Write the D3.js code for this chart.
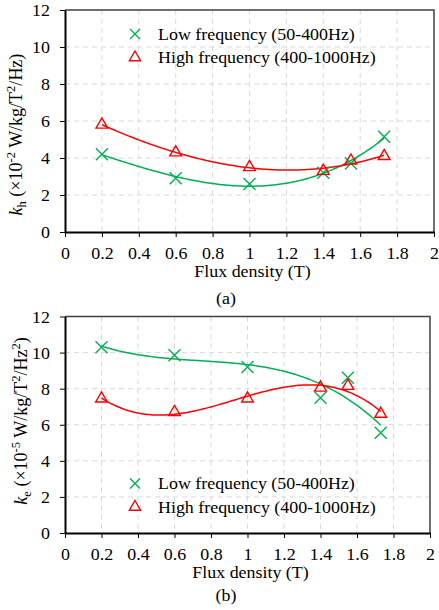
<!DOCTYPE html>
<html>
<head>
<meta charset="utf-8">
<script src="https://cdn.jsdelivr.net/npm/d3@7"></script>
<style>
  body { margin: 0; background: #fff; }
  svg { font-family: "Liberation Serif", "Times New Roman", serif; }
</style>
</head>
<body>
<div id="chart"></div>
<script>
// flux density points (T)
const fluxB = [0.2, 0.6, 1.0, 1.4, 1.55, 1.73];

// (a) hysteresis coefficient kh (x10^-2)
const khLow = [4.2, 2.9, 2.6, 3.2, 3.7, 5.15];
const khHigh = [5.8, 4.3, 3.5, 3.3, 3.85, 4.1];

// (b) eddy coefficient ke (x10^-5)
const keLow = [10.3, 9.85, 9.2, 7.5, 8.6, 5.55];
const keHigh = [7.45, 6.7, 7.45, 8.05, 8.15, 6.6];

const xTicks = [0, 0.2, 0.4, 0.6, 0.8, 1, 1.2, 1.4, 1.6, 1.8, 2];
const yTicks = [0, 2, 4, 6, 8, 10, 12];
const legendNames = ["Low frequency (50-400Hz)", "High frequency (400-1000Hz)"];

const green = "#00b050";
const red = "#ff0000";
const sx = 1.12; // text in the picture is a bit wide

const svg = d3.select("#chart").append("svg")
  .attr("width", 439)
  .attr("height", 610);

// least squares polynomial fit (trend line like excel)
function polyFit(xs, ys, deg) {
  const n = deg + 1;
  const A = [];
  for (let i = 0; i < n; i++) {
    A.push([]);
    for (let j = 0; j <= n; j++) A[i].push(0);
  }
  xs.forEach((x, k) => {
    for (let i = 0; i < n; i++) {
      for (let j = 0; j < n; j++) A[i][j] += Math.pow(x, i + j);
      A[i][n] += ys[k] * Math.pow(x, i);
    }
  });
  for (let i = 0; i < n; i++) {
    let p = i;
    for (let r = i + 1; r < n; r++) if (Math.abs(A[r][i]) > Math.abs(A[p][i])) p = r;
    [A[i], A[p]] = [A[p], A[i]];
    for (let r = 0; r < n; r++) {
      if (r === i) continue;
      const f = A[r][i] / A[i][i];
      for (let c = i; c <= n; c++) A[r][c] -= f * A[i][c];
    }
  }
  const coef = A.map((row, i) => row[n] / row[i]);
  return x => coef.reduce((s, c, i) => s + c * Math.pow(x, i), 0);
}

const crossPath = r => `M${-r},${-r}L${r},${r}M${-r},${r}L${r},${-r}`;

function drawPanel(cfg) {
  const x = d3.scaleLinear([0, 2], [cfg.left, cfg.right]);
  const y = d3.scaleLinear([0, 12], [cfg.bottom, cfg.top]);
  const g = svg.append("g");

  // grid
  g.append("g").selectAll("line")
    .data(xTicks.slice(1, -1))
    .enter().append("line")
    .attr("x1", d => x(d)).attr("x2", d => x(d))
    .attr("y1", cfg.top).attr("y2", cfg.bottom)
    .attr("stroke", "#d9d9d9").attr("stroke-width", 1)
    .attr("stroke-dasharray", "5,4");
  g.append("g").selectAll("line")
    .data(yTicks.slice(1, -1))
    .enter().append("line")
    .attr("x1", cfg.left).attr("x2", cfg.right)
    .attr("y1", d => y(d)).attr("y2", d => y(d))
    .attr("stroke", "#d9d9d9").attr("stroke-width", 1)
    .attr("stroke-dasharray", "5,4");

  // frame top/right
  g.append("path")
    .attr("d", `M${cfg.left},${cfg.top}H${cfg.right}V${cfg.bottom}`)
    .attr("fill", "none").attr("stroke", "#404040").attr("stroke-width", 1.5);

  const xAxis = d3.axisBottom(x).tickValues(xTicks).tickSize(5).tickSizeOuter(0)
    .tickFormat(d => String(+d.toFixed(1)));
  const yAxis = d3.axisLeft(y).tickValues(yTicks).tickSize(5).tickSizeOuter(0);

  const gx = g.append("g")
    .attr("transform", "translate(0," + cfg.bottom + ")")
    .call(xAxis);
  const gy = g.append("g")
    .attr("transform", "translate(" + cfg.left + ",0)")
    .call(yAxis);
  [gx, gy].forEach(a => {
    a.select(".domain").attr("stroke", "#000").attr("stroke-width", 2);
    a.selectAll(".tick line").attr("stroke", "#000").attr("stroke-width", 1);
    a.selectAll("text").attr("font-family", "Liberation Serif").attr("font-size", 16).attr("fill", "#000")
      .attr("transform", `scale(${sx},1)`);
  });
  gx.selectAll("text").attr("y", 21).attr("dy", "0.35em");
  gy.selectAll("text").attr("x", -15 / sx).attr("dy", "0.35em");

  // trend curves
  const series = [
    { vals: cfg.low, color: green, kind: "x" },
    { vals: cfg.high, color: red, kind: "tri" }
  ];
  series.forEach(s => {
    const f = polyFit(fluxB, s.vals, 3);
    const pts = d3.range(0, 154).map(i => fluxB[0] + i * 0.01);
    g.append("path")
      .datum(pts)
      .attr("fill", "none")
      .attr("stroke", s.color)
      .attr("stroke-width", 1.5)
      .attr("d", d3.line().x(d => x(d)).y(d => y(f(d))));
  });

  series.forEach(s => {
    g.append("g").selectAll("path")
      .data(fluxB.map((b, i) => [b, s.vals[i]]))
      .enter().append("path")
      .attr("transform", d => "translate(" + x(d[0]) + "," + y(d[1]) + ")")
      .attr("d", s.kind === "x" ? crossPath(6) : d3.symbol().type(d3.symbolTriangle).size(60)())
      .attr("fill", s.kind === "x" ? "none" : "#fff")
      .attr("fill-opacity", 0)
      .attr("stroke", s.color)
      .attr("stroke-width", 1.4);
  });

  // legend
  const lg = g.append("g");
  legendNames.forEach((name, i) => {
    const ly = cfg.legendY + i * 23.5;
    lg.append("path")
      .attr("transform", "translate(135," + ly + ")")
      .attr("d", i === 0 ? crossPath(5) : d3.symbol().type(d3.symbolTriangle).size(55)())
      .attr("fill", "none")
      .attr("stroke", i === 0 ? green : red)
      .attr("stroke-width", 1.4);
    lg.append("text")
      .attr("transform", `translate(158,${ly}) scale(${sx},1)`)
      .attr("dy", "0.35em")
      .attr("font-size", 16)
      .text(name);
  });

  // axis titles
  g.append("text")
    .attr("transform", `translate(${(cfg.left + cfg.right) / 2 + 3},${cfg.bottom + 39}) scale(${sx},1)`)
    .attr("dy", "0.35em")
    .attr("text-anchor", "middle")
    .attr("font-size", 16)
    .text("Flux density (T)");

  g.append("text")
    .attr("transform", `translate(226,${cfg.captionY}) scale(${sx},1)`)
    .attr("dy", "0.35em")
    .attr("text-anchor", "middle")
    .attr("font-size", 16)
    .text(cfg.caption);

  const yl = g.append("text")
    .attr("transform", "translate(" + cfg.ylabX + "," + cfg.ylabY + ") rotate(-90)")
    .attr("text-anchor", "middle")
    .attr("font-size", 18);
  yl.append("tspan").attr("font-style", "italic").text("k");
  yl.append("tspan").attr("font-size", 12.5).attr("dy", 4).text(cfg.sub);
  yl.append("tspan").attr("dy", -4).text(" (×10");
  yl.append("tspan").attr("font-size", 12.5).attr("dy", -7).text(cfg.exp);
  yl.append("tspan").attr("dy", 7).text(" W/kg/T");
  yl.append("tspan").attr("font-size", 12.5).attr("dy", -7).text("2");
  yl.append("tspan").attr("dy", 7).text("/Hz");
  if (cfg.hzExp) {
    yl.append("tspan").attr("font-size", 12.5).attr("dy", -7).text(cfg.hzExp);
    yl.append("tspan").attr("dy", 7).text(")");
  } else {
    yl.append("tspan").text(")");
  }
}

drawPanel({
  left: 65, right: 434, top: 10, bottom: 232,
  low: khLow, high: khHigh,
  legendY: 34, caption: "(a)", captionY: 298,
  ylabX: 22, ylabY: 134.5, sub: "h", exp: "-2", hzExp: null
});

drawPanel({
  left: 65, right: 430, top: 316.5, bottom: 533,
  low: keLow, high: keHigh,
  legendY: 483.5, caption: "(b)", captionY: 595,
  ylabX: 27, ylabY: 421, sub: "e", exp: "-5", hzExp: "2"
});
</script>
</body>
</html>
